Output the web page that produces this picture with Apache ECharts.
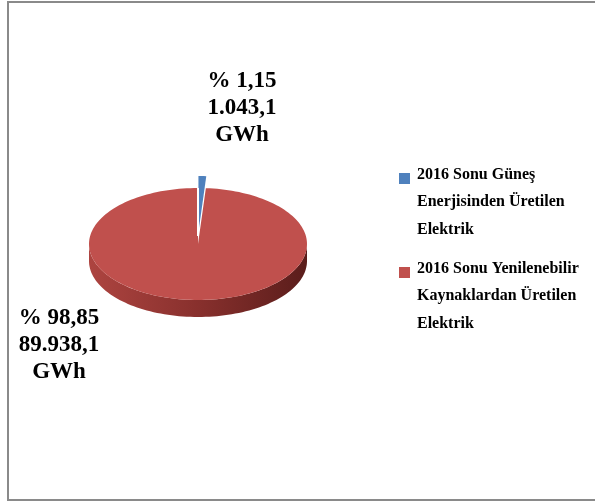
<!DOCTYPE html>
<html><head><meta charset="utf-8">
<script src="https://cdn.jsdelivr.net/npm/echarts@6/dist/echarts.min.js"></script>
<style>html,body{margin:0;padding:0;background:#fff}#c{width:595px;height:503px}</style>
</head><body><div id="c"></div><script>
// Electricity generated at the end of 2016 (GWh)
const categories = ['2016 Sonu Güneş Enerjisinden Üretilen Elektrik', '2016 Sonu Yenilenebilir Kaynaklardan Üretilen Elektrik'];
const legendLines = [
  ['2016 Sonu Güneş', 'Enerjisinden Üretilen', 'Elektrik'],
  ['2016 Sonu Yenilenebilir', 'Kaynaklardan Üretilen', 'Elektrik']
];
const valuesGWh = [1043.1, 89938.1];
const colors = ['#4F81BD', '#C0504D'];
const explodedSlices = [true, false];

// Turkish number formatting: '.' thousands, ',' decimals
function fmtTR(v, dec) {
  const s = v.toFixed(dec).split('.');
  const intPart = s[0].replace(/\B(?=(\d{3})+(?!\d))/g, '.');
  return s.length > 1 ? intPart + ',' + s[1] : intPart;
}
const total = valuesGWh.reduce((a, b) => a + b, 0);
const labelText = valuesGWh.map(v => '% ' + fmtTR(v / total * 100, 2) + '\n' + fmtTR(v, 1) + '\nGWh');

// tilted pie geometry
const PIE = { cx: 198, cy: 244, rx: 109, ry: 56, depth: 17, explode: 12 };

function pt(theta, dx, dy, down) {
  return [PIE.cx + dx + PIE.rx * Math.sin(theta), PIE.cy + dy + (down || 0) - PIE.ry * Math.cos(theta)];
}
function arc(a, b, dx, dy, down) {
  const n = Math.max(2, Math.ceil((b - a) / (Math.PI / 90)));
  const out = [];
  for (let i = 0; i <= n; i++) out.push(pt(a + (b - a) * i / n, dx, dy, down));
  return out;
}

function renderItem(params, api) {
  const i = params.dataIndex;
  let before = 0;
  for (let k = 0; k < i; k++) before += valuesGWh[k];
  const v = api.value(0);
  const t1 = before / total * Math.PI * 2;
  const t2 = (before + v) / total * Math.PI * 2;
  const mid = (t1 + t2) / 2;
  const off = explodedSlices[i] ? PIE.explode : 0;
  const dx = off * Math.sin(mid), dy = -off * Math.cos(mid);
  const children = [];
  // visible outer wall: front half of the rim
  const a = Math.max(t1, Math.PI / 2), b = Math.min(t2, Math.PI * 3 / 2);
  if (b > a) {
    const top = arc(a, b, dx, dy, 0);
    const bottom = arc(a, b, dx, dy, PIE.depth).reverse();
    children.push({
      type: 'polygon',
      shape: { points: top.concat(bottom) },
      style: {
        fill: {
          type: 'linear', x: 0, y: 0, x2: 1, y2: 0,
          colorStops: i === 1 ? [
            { offset: 0, color: '#ad4440' },
            { offset: 0.5, color: '#88302d' },
            { offset: 1, color: '#5a1d1b' }
          ] : [
            { offset: 0, color: '#4a76ab' },
            { offset: 1, color: '#2e4f78' }
          ]
        }
      }
    });
  }
  // top face
  children.push({
    type: 'polygon',
    shape: { points: [[PIE.cx + dx, PIE.cy + dy]].concat(arc(t1, t2, dx, dy, 0)) },
    style: { fill: colors[i] }
  });
  // separating gap on the closing edge of the main slice
  if (!explodedSlices[i]) {
    const e = pt(t2, dx, dy, 0);
    children.push({
      type: 'line',
      shape: { x1: PIE.cx + dx, y1: PIE.cy + dy - 8, x2: e[0], y2: e[1] },
      style: { stroke: '#ffffff', lineWidth: 2 }
    });
  }
  return { type: 'group', children: children };
}

const labelPos = [[242, 108], [59, 345]];
const legendPos = [[399, 173], [399, 267]];
const serif = '"Liberation Serif", "Times New Roman", serif';

const graphics = [{
  type: 'rect',
  shape: { x: 8, y: 2, width: 600, height: 498 },
  style: { fill: 'none', stroke: '#8a8a8a', lineWidth: 2 },
  z: 10
}];
valuesGWh.forEach((v, i) => {
  graphics.push({
    type: 'text', x: labelPos[i][0], y: labelPos[i][1],
    style: {
      text: labelText[i], fill: '#000', align: 'center', verticalAlign: 'middle',
      font: 'bold 23px ' + serif, lineHeight: 27
    }
  });
  graphics.push({
    type: 'rect', shape: { x: legendPos[i][0], y: legendPos[i][1], width: 11, height: 11 },
    style: { fill: colors[i] }
  });
  graphics.push({
    type: 'text', x: legendPos[i][0] + 18, y: legendPos[i][1] - 12,
    style: {
      text: legendLines[i].join('\n'), fill: '#000', align: 'left', verticalAlign: 'top',
      font: 'bold 16px ' + serif, lineHeight: 27.5
    }
  });
});

const chart = echarts.init(document.getElementById('c'), null, { renderer: 'canvas' });
chart.setOption({
  backgroundColor: '#ffffff',
  animation: false,
  series: [{
    type: 'custom',
    name: 'Elektrik',
    coordinateSystem: 'none',
    renderItem: renderItem,
    data: valuesGWh.map((v, i) => ({ name: categories[i], value: v }))
  }],
  graphic: graphics
});
</script></body></html>
